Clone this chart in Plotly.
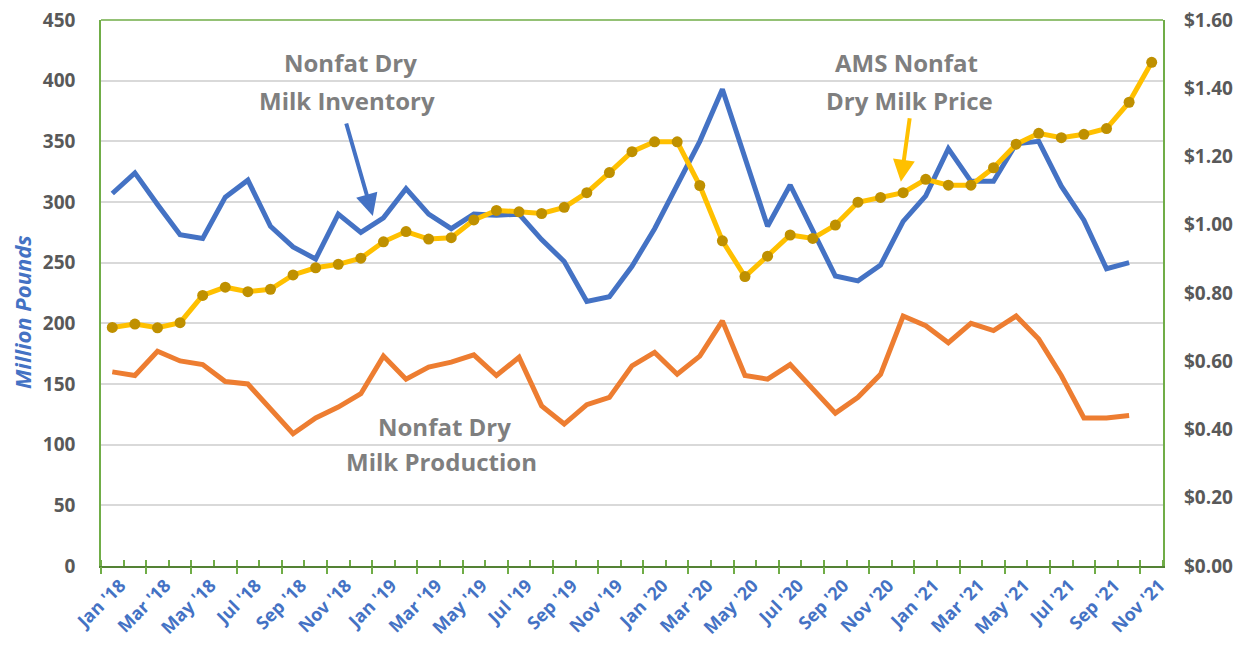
import plotly.graph_objects as go

months = ["Jan '18", "Feb '18", "Mar '18", "Apr '18", "May '18", "Jun '18", "Jul '18", "Aug '18", "Sep '18", "Oct '18", "Nov '18", "Dec '18",
          "Jan '19", "Feb '19", "Mar '19", "Apr '19", "May '19", "Jun '19", "Jul '19", "Aug '19", "Sep '19", "Oct '19", "Nov '19", "Dec '19",
          "Jan '20", "Feb '20", "Mar '20", "Apr '20", "May '20", "Jun '20", "Jul '20", "Aug '20", "Sep '20", "Oct '20", "Nov '20", "Dec '20",
          "Jan '21", "Feb '21", "Mar '21", "Apr '21", "May '21", "Jun '21", "Jul '21", "Aug '21", "Sep '21", "Oct '21", "Nov '21"]

inventory = [307, 324, 298, 273, 270, 304, 318, 280, 263, 253, 290, 275,
             287, 311, 290, 278, 290, 289, 290, 269, 251, 218, 222, 247,
             278, 314, 350, 393, 337, 280, 314, 277, 239, 235, 248, 284,
             305, 344, 317, 317, 348, 350, 313, 285, 245, 250]

production = [160, 157, 177, 169, 166, 152, 150, 130, 109, 122, 131, 142,
              173, 154, 164, 168, 174, 157, 172, 132, 117, 133, 139, 165,
              176, 158, 173, 202, 157, 154, 166, 146, 126, 139, 158, 206,
              198, 184, 200, 194, 206, 187, 157, 122, 122, 124]

price = [0.699, 0.709, 0.698, 0.713, 0.793, 0.817, 0.804, 0.811, 0.853, 0.874, 0.884, 0.902,
         0.950, 0.980, 0.958, 0.962, 1.014, 1.042, 1.038, 1.033, 1.051, 1.094, 1.153, 1.214,
         1.243, 1.243, 1.115, 0.953, 0.848, 0.908, 0.970, 0.960, 0.999, 1.066, 1.080, 1.094,
         1.133, 1.116, 1.116, 1.167, 1.236, 1.268, 1.255, 1.265, 1.282, 1.359, 1.476]

left_ticks = [0, 50, 100, 150, 200, 250, 300, 350, 400, 450]
right_ticks = [0.0, 0.2, 0.4, 0.6, 0.8, 1.0, 1.2, 1.4, 1.6]

FONT = "Open Sans"
GRAY = "#595959"
BLUE = "#4472C4"
ORANGE = "#ED7D31"
GOLD = "#FFC000"
GOLD_DARK = "#BF9000"
GREEN = "#548235"
LGREEN = "#70AD47"

idx = list(range(len(months)))
n = len(months)

fig = go.Figure()
fig.add_trace(go.Scatter(x=idx[:len(inventory)], y=inventory, mode="lines",
                         line=dict(color=BLUE, width=5), name="Inventory"))
fig.add_trace(go.Scatter(x=idx[:len(production)], y=production, mode="lines",
                         line=dict(color=ORANGE, width=5), name="Production"))
fig.add_trace(go.Scatter(x=idx, y=price, mode="lines+markers", yaxis="y2",
                         line=dict(color=GOLD, width=5),
                         marker=dict(color=GOLD_DARK, size=11),
                         name="Price"))

boundaries = [i - 0.5 for i in range(n + 1)]

# page has an 8px body margin, so the paper is sized and offset to compensate
fig.update_layout(
    width=1237, height=631,
    margin=dict(l=93, r=82, t=12, b=73),
    plot_bgcolor="white", paper_bgcolor="white",
    showlegend=False,
    font=dict(family=FONT),
    xaxis=dict(
        range=[-0.5, n - 0.5], automargin=False,
        tickmode="array", tickvals=idx[::2], ticktext=months[::2],
        tickangle=-45, ticks="", showgrid=False, zeroline=False,
        showline=True, linecolor=GREEN, linewidth=2,
        ticklabelshift=8, ticklabeloverflow="allow",
        tickfont=dict(family=FONT, size=18, color=BLUE, weight="bold"),
    ),
    xaxis2=dict(
        overlaying="x", anchor="y", side="bottom", automargin=False,
        range=[-0.5, n - 0.5],
        tickmode="array", tickvals=boundaries[::2],
        ticks="outside", ticklen=7, tickwidth=2, tickcolor=LGREEN,
        showticklabels=False, showgrid=False, zeroline=False, showline=False,
        minor=dict(tickmode="array", tickvals=boundaries, ticks="inside",
                   ticklen=6, tickwidth=2, tickcolor=LGREEN, showgrid=False),
    ),
    yaxis=dict(
        range=[0, 450], tickmode="array", tickvals=left_ticks, automargin=False,
        showgrid=True, gridcolor="#D9D9D9", gridwidth=1.5, zeroline=False,
        showline=True, linecolor=LGREEN, linewidth=1.5, mirror=True,
        ticks="", ticklabelstandoff=20, ticklabeloverflow="allow",
        tickfont=dict(family=FONT, size=19, color=GRAY, weight="bold"),
    ),
    yaxis2=dict(
        overlaying="y", side="right", range=[0, 1.6], automargin=False,
        tickmode="array", tickvals=right_ticks, tickformat="$.2f",
        showgrid=False, zeroline=False, showline=False, ticks="",
        ticklabelstandoff=20, ticklabeloverflow="allow",
        tickfont=dict(family=FONT, size=19, color=GRAY, weight="bold"),
    ),
    shapes=[dict(type="line", xref="paper", yref="paper", x0=0, x1=1, y0=1, y1=1,
                 line=dict(color=LGREEN, width=1.5))],
)

# invisible helper trace so the overlay tick axis renders
fig.add_trace(go.Scatter(x=[None], y=[None], xaxis="x2", showlegend=False, hoverinfo="skip"))

LBL = dict(family=FONT, size=24, color="#7F7F7F", weight="bold")

fig.add_annotation(text="Nonfat Dry", x=10.53, y=415, xref="x", yref="y", showarrow=False, font=LBL)
fig.add_annotation(text="Milk Inventory", x=10.40, y=384, xref="x", yref="y", showarrow=False, font=LBL)
fig.add_annotation(text="AMS Nonfat", x=35.13, y=415, xref="x", yref="y", showarrow=False, font=LBL)
fig.add_annotation(text="Dry Milk Price", x=35.26, y=384, xref="x", yref="y", showarrow=False, font=LBL)
fig.add_annotation(text="Nonfat Dry", x=14.71, y=115, xref="x", yref="y", showarrow=False, font=LBL)
fig.add_annotation(text="Milk Production", x=14.58, y=86, xref="x", yref="y", showarrow=False, font=LBL)

# arrows
fig.add_annotation(text="", x=11.53, y=288.5, xref="x", yref="y",
                   ax=-27, ay=-94, axref="pixel", ayref="pixel",
                   showarrow=True, arrowhead=2, arrowsize=1.1, arrowwidth=4,
                   arrowcolor=BLUE, standoff=0)
fig.add_annotation(text="", x=34.9, y=316.7, xref="x", yref="y",
                   ax=9, ay=-65, axref="pixel", ayref="pixel",
                   showarrow=True, arrowhead=2, arrowsize=1.1, arrowwidth=4,
                   arrowcolor=GOLD, standoff=0)

fig.add_annotation(text="<i>Million Pounds</i>", xref="paper", yref="paper",
                   x=(22 - 101) / 1062, y=(566 - 312) / 546, xanchor="center", yanchor="middle",
                   textangle=-90, showarrow=False,
                   font=dict(family=FONT, size=22, color=BLUE, weight="bold"))

fig.write_html("out.html")
